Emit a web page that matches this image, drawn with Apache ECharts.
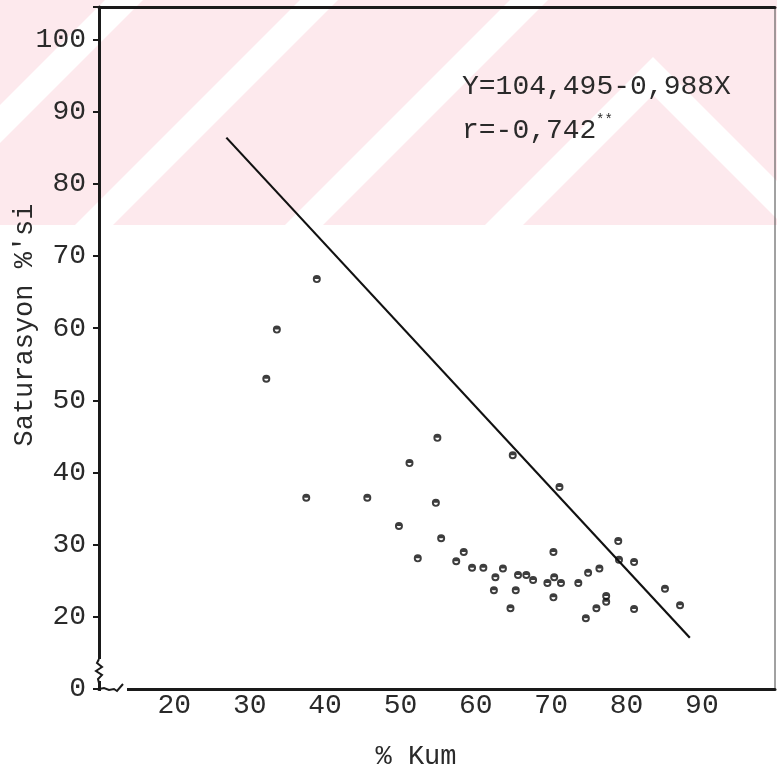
<!DOCTYPE html>
<html>
<head>
<meta charset="utf-8">
<script src="https://cdn.jsdelivr.net/npm/echarts@6/dist/echarts.min.js"></script>
<style>
html,body{margin:0;padding:0;background:#fff;}
#c{width:777px;height:773px;}
</style>
</head>
<body>
<div id="c"></div>
<script>
// ---- data ----
const kum = [32.2, 33.6, 38.9, 37.5, 45.6, 49.8, 51.2, 54.9, 54.7, 55.4, 52.3, 58.4, 57.4, 59.5, 61.0,
             62.6, 63.6, 62.4, 65.3, 64.6, 65.6, 66.7, 67.6, 69.5, 70.3, 70.4, 71.3, 70.3, 64.9, 71.1,
             73.6, 74.9, 76.4, 74.6, 76.0, 77.3, 77.3, 78.9, 79.0, 81.0, 81.0, 85.1, 87.1];
const saturasyon = [53.0, 59.8, 66.8, 36.5, 36.5, 32.6, 41.3, 44.8, 35.8, 30.9, 28.1, 29.0, 27.7, 26.8, 26.8,
             25.5, 26.7, 23.7, 23.7, 21.2, 25.8, 25.8, 25.1, 24.7, 29.0, 25.5, 24.7, 22.7, 42.4, 38.0,
             24.7, 26.1, 26.7, 19.8, 21.2, 22.9, 22.1, 30.5, 27.9, 27.6, 21.1, 23.9, 21.6];
const lineKum = [26.9, 88.4];
const lineSat = [86.4, 17.1];
const yTickValues = [10, 20, 30, 40, 50, 60, 70, 80, 90, 100];
const yTickLabels = ['0', '20', '30', '40', '50', '60', '70', '80', '90', '100'];
const xTickValues = [20, 30, 40, 50, 60, 70, 80, 90];
const xTickLabels = ['20', '30', '40', '50', '60', '70', '80', '90'];
const equationText = 'Y=104,495-0,988X';
const rText = 'r=-0,742';
const rStars = '**';
const yName = "Saturasyon %'si";
const xName = '% Kum';

const FONT = '"Liberation Mono", "Courier New", monospace';
const INK = '#1a1a1a';

const points = kum.map((k, i) => [k, saturasyon[i]]);
const linePts = lineKum.map((k, i) => [k, lineSat[i]]);

// half-filled dot like the typewritten marks
const dotPath = 'path://M0,5A5,5 0 0 1 10,5Z M0,5A5,5 0 0 0 10,5L7.6,5A2.6,2.6 0 0 1 2.4,5Z';

const chart = echarts.init(document.getElementById('c'), null, {renderer: 'canvas'});

// watermark (scan background): pink band with white diagonal stripes
const wm = [];
wm.push({type: 'rect', shape: {x: 0, y: 0, width: 777, height: 225}, style: {fill: '#fde9ed'}, z: -20, silent: true});
function stripe(x0, dir, w) { // 45deg band from bottom edge y=225
  const h = 225;
  return {type: 'polygon', z: -19, silent: true,
    shape: {points: [[x0, h], [x0 + w, h], [x0 + w + dir * h, 0], [x0 + dir * h, 0]]},
    style: {fill: '#ffffff'}};
}
wm.push(stripe(75, 1, 38));
wm.push(stripe(-120, 1, 38));
wm.push(stripe(285, 1, 38));
wm.push({type: 'polygon', z: -19, silent: true,
  shape: {points: [[485, 225], [653, 57], [821, 225], [783, 225], [653, 95], [523, 225]]},
  style: {fill: '#ffffff'}});

const option = {
  backgroundColor: '#ffffff',
  animation: false,
  grid: {left: 99, right: 2, top: 7, bottom: 84, show: true, borderColor: '#444', borderWidth: 1, containLabel: false, outerBoundsMode: 'none'},
  xAxis: [{
    type: 'value', min: 10, max: 99.7, interval: 10,
    axisLine: {show: true, onZero: false, lineStyle: {color: INK, width: 3}},
    axisTick: {show: false},
    splitLine: {show: false},
    axisLabel: {
      margin: 3, fontFamily: FONT, fontSize: 28, color: '#2a2a2a',
      formatter: v => { const i = xTickValues.indexOf(Math.round(v * 10) / 10); return i >= 0 ? xTickLabels[i] : ''; }
    }
  }, {
    type: 'value', position: 'top', min: 10, max: 99.7,
    axisLine: {show: true, lineStyle: {color: INK, width: 3}},
    axisTick: {show: false}, axisLabel: {show: false}, splitLine: {show: false}
  }],
  yAxis: [{
    type: 'value', min: 10, max: 104.5, interval: 10,
    axisLine: {show: true, onZero: false, lineStyle: {color: INK, width: 3}},
    axisTick: {show: true, length: 6, lineStyle: {color: INK, width: 2}},
    splitLine: {show: false},
    axisLabel: {
      margin: 13, fontFamily: FONT, fontSize: 28, color: '#2a2a2a',
      formatter: v => { const i = yTickValues.indexOf(Math.round(v * 10) / 10); return i >= 0 ? yTickLabels[i] : ''; }
    }
  }],
  series: [{
    type: 'line', data: linePts, symbol: 'none', silent: true,
    lineStyle: {color: '#111', width: 2.2}, z: 3
  }, {
    type: 'scatter', data: points, symbol: dotPath, symbolSize: [8, 8],
    itemStyle: {color: '#0d0d0d'}, z: 4
  }],
  graphic: wm.concat([
    {type: 'text', x: 462, y: 87, z: 10, style: {text: equationText, font: '28px ' + FONT, fill: '#2a2a2a', textVerticalAlign: 'middle', verticalAlign: 'middle'}},
    {type: 'text', x: 462, y: 131, z: 10, style: {text: rText, font: '28px ' + FONT, fill: '#2a2a2a', textVerticalAlign: 'middle', verticalAlign: 'middle'}},
    {type: 'text', x: 596, y: 120, z: 10, style: {text: rStars, font: '14px ' + FONT, fill: '#2a2a2a', textVerticalAlign: 'middle', verticalAlign: 'middle'}},
    {type: 'text', x: 38, y: 325, rotation: Math.PI / 2, z: 10, style: {text: yName, font: '27px ' + FONT, fill: '#2a2a2a', align: 'center', textAlign: 'center', verticalAlign: 'bottom', textVerticalAlign: 'bottom'}},
    {type: 'text', x: 416, y: 757, z: 10, style: {text: xName, font: '27px ' + FONT, fill: '#2a2a2a', align: 'center', textAlign: 'center', verticalAlign: 'middle', textVerticalAlign: 'middle'}}
  ])
};
chart.setOption(option);

// axis-break marks near the corner
const c = chart.convertToPixel({gridIndex: 0}, [10, 10]);
const cx = c[0], cy = c[1];
chart.setOption({graphic: option.graphic.concat([
  {type: 'rect', z: 20, shape: {x: cx + 2, y: cy - 3, width: 26, height: 6}, style: {fill: '#fff'}},
  {type: 'polyline', z: 21, shape: {points: [[cx, cy], [cx + 5, cy - 1], [cx + 10, cy + 1], [cx + 15, cy], [cx + 18, cy + 2], [cx + 24, cy - 5]]}, style: {stroke: INK, lineWidth: 2, fill: null}},
  {type: 'rect', z: 20, shape: {x: cx - 3, y: cy - 30, width: 6, height: 22}, style: {fill: '#fff'}},
  {type: 'polyline', z: 21, shape: {points: [[cx, cy - 30], [cx - 2, cy - 26], [cx + 3, cy - 22], [cx - 3, cy - 18], [cx + 3, cy - 14], [cx - 1, cy - 10], [cx, cy - 6]]}, style: {stroke: INK, lineWidth: 2, fill: null}}
])});
</script>
</body>
</html>
